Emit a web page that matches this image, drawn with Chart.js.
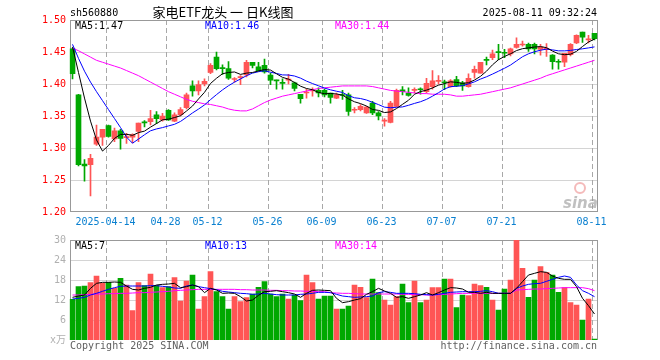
<!DOCTYPE html>
<html lang="zh">
<head>
    <meta charset="UTF-8"/>
    <title>家电ETF龙头 日K线图</title>
    <script src="https://cdn.jsdelivr.net/npm/chart.js@4.4.1/dist/chart.umd.min.js"></script>
    <style>
        body { margin: 0; background: #fff; }
        #wrap { position: relative; width: 660px; height: 360px; }
        #kline { position: absolute; left: 0; top: 0; }
        #vol { position: absolute; left: 0; top: 228px; }
    </style>
</head>
<body>
<div id="wrap">
    <canvas id="kline" width="660" height="236"></canvas>
    <canvas id="vol" width="660" height="132"></canvas>
</div>
<script>
    // trading days shown (2025)
    const dates = ['04-03', '04-07', '04-08', '04-09', '04-10', '04-11', '04-14', '04-15', '04-16', '04-17',
        '04-18', '04-21', '04-22', '04-23', '04-24', '04-25', '04-28', '04-29', '04-30', '05-06',
        '05-07', '05-08', '05-09', '05-12', '05-13', '05-14', '05-15', '05-16', '05-19', '05-20',
        '05-21', '05-22', '05-23', '05-26', '05-27', '05-28', '05-29', '05-30', '06-03', '06-04',
        '06-05', '06-06', '06-09', '06-10', '06-11', '06-12', '06-13', '06-16', '06-17', '06-18',
        '06-19', '06-20', '06-23', '06-24', '06-25', '06-26', '06-27', '06-30', '07-01', '07-02',
        '07-03', '07-04', '07-07', '07-08', '07-09', '07-10', '07-11', '07-14', '07-15', '07-16',
        '07-17', '07-18', '07-21', '07-22', '07-23', '07-24', '07-25', '07-28', '07-29', '07-30',
        '07-31', '08-01', '08-04', '08-05', '08-06', '08-07', '08-08', '08-11'];

    // x axis ticks
    const tickDates = ['04-14', '04-28', '05-12', '05-26', '06-09', '06-23', '07-07', '07-21', '08-11'];
    const tickLabels = ['2025-04-14', '04-28', '05-12', '05-26', '06-09', '06-23', '07-07', '07-21', '08-11'];

    const open = [1.455, 1.383, 1.275, 1.274, 1.306, 1.317, 1.335, 1.314, 1.327, 1.316,
        1.317, 1.326, 1.341, 1.341, 1.352, 1.344, 1.359, 1.342, 1.352, 1.363,
        1.397, 1.389, 1.400, 1.418, 1.442, 1.425, 1.424, 1.407, 1.410, 1.414,
        1.434, 1.427, 1.429, 1.414, 1.406, 1.402, 1.406, 1.402, 1.384, 1.386,
        1.389, 1.390, 1.390, 1.386, 1.378, 1.383, 1.383, 1.359, 1.360, 1.355,
        1.370, 1.355, 1.342, 1.340, 1.365, 1.391, 1.386, 1.390, 1.392, 1.388,
        1.396, 1.404, 1.403, 1.396, 1.407, 1.402, 1.396, 1.418, 1.417, 1.438,
        1.441, 1.450, 1.449, 1.447, 1.457, 1.461, 1.462, 1.462, 1.454, 1.454,
        1.445, 1.435, 1.434, 1.446, 1.464, 1.481, 1.469, 1.479];
    const high = [1.456, 1.384, 1.282, 1.290, 1.336, 1.329, 1.336, 1.331, 1.329, 1.323,
        1.322, 1.339, 1.343, 1.359, 1.357, 1.354, 1.360, 1.355, 1.363, 1.386,
        1.405, 1.405, 1.408, 1.432, 1.450, 1.430, 1.435, 1.410, 1.413, 1.437,
        1.434, 1.434, 1.439, 1.417, 1.406, 1.408, 1.415, 1.403, 1.384, 1.392,
        1.394, 1.394, 1.392, 1.386, 1.386, 1.390, 1.386, 1.363, 1.368, 1.365,
        1.373, 1.357, 1.346, 1.373, 1.392, 1.396, 1.394, 1.394, 1.394, 1.409,
        1.421, 1.413, 1.406, 1.407, 1.412, 1.404, 1.416, 1.428, 1.434, 1.442,
        1.453, 1.462, 1.454, 1.456, 1.472, 1.467, 1.464, 1.464, 1.462, 1.463,
        1.446, 1.438, 1.448, 1.463, 1.477, 1.481, 1.476, 1.479];
    const low = [1.408, 1.272, 1.248, 1.225, 1.304, 1.304, 1.317, 1.310, 1.298, 1.307,
        1.308, 1.310, 1.333, 1.336, 1.338, 1.342, 1.343, 1.341, 1.350, 1.361,
        1.381, 1.383, 1.397, 1.416, 1.422, 1.415, 1.407, 1.403, 1.399, 1.411,
        1.425, 1.420, 1.417, 1.399, 1.392, 1.392, 1.400, 1.389, 1.370, 1.378,
        1.381, 1.380, 1.380, 1.370, 1.377, 1.376, 1.351, 1.355, 1.358, 1.354,
        1.352, 1.344, 1.334, 1.339, 1.364, 1.383, 1.381, 1.386, 1.384, 1.386,
        1.392, 1.400, 1.391, 1.395, 1.396, 1.390, 1.395, 1.409, 1.417, 1.430,
        1.438, 1.438, 1.441, 1.444, 1.456, 1.459, 1.451, 1.447, 1.445, 1.443,
        1.423, 1.423, 1.427, 1.444, 1.463, 1.465, 1.464, 1.469];
    const close = [1.416, 1.274, 1.272, 1.284, 1.317, 1.329, 1.318, 1.327, 1.315, 1.318,
        1.321, 1.339, 1.339, 1.346, 1.346, 1.350, 1.344, 1.352, 1.360, 1.383,
        1.389, 1.399, 1.404, 1.429, 1.424, 1.424, 1.409, 1.408, 1.410, 1.434,
        1.429, 1.421, 1.419, 1.406, 1.405, 1.401, 1.407, 1.393, 1.377, 1.387,
        1.391, 1.386, 1.383, 1.379, 1.383, 1.382, 1.357, 1.360, 1.365, 1.364,
        1.355, 1.350, 1.343, 1.370, 1.390, 1.388, 1.382, 1.390, 1.391, 1.401,
        1.405, 1.404, 1.402, 1.405, 1.397, 1.397, 1.409, 1.423, 1.434, 1.437,
        1.447, 1.449, 1.448, 1.455, 1.462, 1.462, 1.455, 1.455, 1.458, 1.454,
        1.435, 1.434, 1.448, 1.462, 1.476, 1.473, 1.469, 1.471];

    const ma5 = [1.458, 1.418, 1.378, 1.342, 1.3126, 1.2952, 1.304, 1.315, 1.3212, 1.3214,
        1.3198, 1.324, 1.3264, 1.3326, 1.3382, 1.344, 1.345, 1.3476, 1.3504, 1.3578,
        1.3656, 1.3766, 1.387, 1.4008, 1.409, 1.416, 1.418, 1.4188, 1.415, 1.417,
        1.418, 1.4204, 1.4226, 1.4218, 1.416, 1.4104, 1.4076, 1.4024, 1.3966, 1.393,
        1.391, 1.3868, 1.3848, 1.3852, 1.3844, 1.3826, 1.3768, 1.3722, 1.3694, 1.3656,
        1.3602, 1.3588, 1.3554, 1.3564, 1.3616, 1.3682, 1.3746, 1.384, 1.3882, 1.3904,
        1.3938, 1.3982, 1.4006, 1.4034, 1.4026, 1.401, 1.402, 1.4062, 1.412, 1.42,
        1.43, 1.438, 1.443, 1.4472, 1.4522, 1.4552, 1.4564, 1.4578, 1.4584, 1.4568,
        1.4514, 1.4472, 1.4458, 1.4466, 1.451, 1.4586, 1.4656, 1.4702];
    const ma10 = [1.462, 1.44, 1.42, 1.403, 1.388, 1.374, 1.36, 1.346, 1.332, 1.317,
        1.3075, 1.314, 1.3207, 1.3269, 1.3298, 1.3319, 1.3345, 1.337, 1.3415, 1.348,
        1.3548, 1.3608, 1.3673, 1.3756, 1.3834, 1.3908, 1.3973, 1.4029, 1.4079, 1.413,
        1.417, 1.4192, 1.4207, 1.4184, 1.4165, 1.4142, 1.414, 1.4125, 1.4092, 1.4045,
        1.4007, 1.3972, 1.3936, 1.3909, 1.3887, 1.3868, 1.3818, 1.3785, 1.3773, 1.375,
        1.3714, 1.3678, 1.3638, 1.3629, 1.3636, 1.3642, 1.3667, 1.3697, 1.3723, 1.376,
        1.381, 1.3864, 1.3923, 1.3958, 1.3965, 1.3974, 1.4001, 1.4034, 1.4077, 1.4113,
        1.4155, 1.42, 1.4246, 1.4296, 1.4361, 1.4426, 1.4472, 1.4504, 1.4528, 1.4545,
        1.4533, 1.4518, 1.4518, 1.4525, 1.4539, 1.455, 1.4564, 1.458];
    const ma30 = [1.456, 1.452, 1.447, 1.442, 1.437, 1.434, 1.431, 1.428, 1.425, 1.421,
        1.417, 1.413, 1.408, 1.403, 1.398, 1.393, 1.388, 1.384, 1.380, 1.376,
        1.373, 1.371, 1.369, 1.368, 1.366, 1.364, 1.361, 1.359, 1.358, 1.358,
        1.361, 1.366, 1.371, 1.375, 1.378, 1.381, 1.383, 1.385, 1.387, 1.389,
        1.391, 1.393, 1.394, 1.395, 1.396, 1.397, 1.397, 1.397, 1.397, 1.397,
        1.396, 1.394, 1.392, 1.390, 1.389, 1.388, 1.387, 1.386, 1.385, 1.385,
        1.384, 1.384, 1.384, 1.383, 1.381, 1.381, 1.382, 1.383, 1.384, 1.386,
        1.388, 1.390, 1.392, 1.394, 1.397, 1.400, 1.403, 1.406, 1.409, 1.413,
        1.416, 1.419, 1.422, 1.425, 1.428, 1.431, 1.434, 1.437];

    // volume, x万
    const volume = [12.2, 16.0, 16.2, 17.2, 19.2, 17.0, 17.3, 15.5, 18.5, 16.5,
        8.8, 17.2, 16.3, 19.8, 16.3, 15.7, 16.0, 18.7, 11.7, 17.7,
        19.5, 9.3, 13.0, 20.5, 14.5, 13.0, 9.3, 13.0, 11.5, 12.7,
        13.8, 15.8, 17.5, 13.8, 13.0, 13.8, 12.3, 13.5, 11.8, 19.5,
        17.2, 12.3, 13.2, 13.2, 9.3, 9.3, 10.2, 16.5, 15.8, 12.7,
        18.3, 14.2, 12.0, 10.5, 13.0, 16.8, 11.2, 17.7, 11.2, 12.0,
        15.7, 15.7, 18.3, 18.3, 9.7, 13.5, 13.3, 16.8, 16.3, 15.8,
        12.0, 9.0, 15.3, 18.0, 30.5, 21.5, 12.8, 18.0, 22.0, 20.3,
        19.5, 14.3, 15.7, 11.2, 10.5, 6.0, 12.3, 0.3];
    const vma5 = [12.8, 13.2, 13.5, 15.5, 17.0, 17.3, 17.3, 17.4, 17.3, 16.2,
        15.2, 15.0, 15.5, 15.8, 16.5, 16.7, 16.8, 17.0, 15.7, 16.0,
        16.5, 16.0, 14.2, 15.5, 15.0, 14.0, 14.1, 14.0, 13.0, 11.7,
        12.0, 13.4, 14.5, 14.6, 14.8, 14.5, 14.2, 13.8, 12.8, 14.0,
        14.9, 15.0, 14.9, 14.8, 12.5, 11.2, 11.5, 12.0, 12.4, 13.7,
        14.5, 15.5, 14.7, 14.0, 12.8, 13.0, 12.5, 13.0, 13.5, 14.2,
        13.5, 14.2, 15.0, 15.7, 15.6, 15.3, 14.3, 14.3, 14.0, 14.3,
        14.0, 14.0, 14.0, 14.0, 15.5, 17.5, 19.5, 20.0, 20.5, 20.3,
        19.2, 18.5, 18.2, 18.2, 16.0, 12.5, 10.3, 7.8];
    const vma10 = [12.3, 12.5, 12.8, 13.5, 14.0, 14.6, 15.2, 15.7, 16.1, 16.2,
        16.2, 16.2, 16.2, 16.3, 16.3, 16.1, 15.9, 15.6, 15.5, 16.2,
        16.5, 16.0, 15.7, 15.4, 15.1, 14.6, 14.4, 14.2, 14.0, 13.9,
        13.7, 13.8, 14.0, 13.8, 13.6, 13.5, 13.5, 13.5, 13.7, 13.8,
        14.0, 14.3, 14.3, 14.2, 13.7, 13.2, 13.0, 12.8, 12.9, 13.0,
        13.2, 14.2, 14.5, 14.3, 14.0, 14.0, 14.0, 13.9, 13.7, 13.6,
        13.5, 13.7, 14.0, 14.3, 14.4, 14.5, 14.5, 14.5, 14.6, 14.8,
        14.5, 14.0, 14.0, 14.0, 15.5, 16.2, 16.7, 16.9, 17.0, 17.6,
        18.2, 18.8, 19.2, 18.8, 16.5, 14.8, 14.0, 13.0];
    const vma30 = [13.5, 13.5, 13.6, 13.7, 13.8, 13.8, 13.9, 13.9, 14.0, 14.0,
        14.1, 14.2, 14.2, 14.3, 14.4, 14.5, 14.6, 14.8, 14.9, 15.0,
        15.1, 15.2, 15.2, 15.2, 15.2, 15.2, 15.2, 15.2, 15.1, 15.1,
        15.0, 15.0, 15.0, 14.9, 14.9, 14.8, 14.8, 14.7, 14.7, 14.6,
        14.6, 14.5, 14.5, 14.2, 14.1, 14.0, 14.0, 13.9, 13.8, 13.8,
        13.8, 13.8, 13.8, 13.8, 13.8, 13.7, 13.7, 13.6, 13.6, 13.5,
        13.5, 13.6, 13.7, 13.8, 13.9, 14.0, 14.0, 14.0, 14.0, 14.0,
        14.0, 14.0, 14.0, 14.0, 15.0, 15.1, 15.2, 15.3, 15.3, 15.4,
        15.5, 15.6, 15.7, 15.7, 15.7, 15.7, 15.4, 14.8];

    const RED = '#ff5555';
    const GREEN = '#00a800';
    const MONO = '10px "DejaVu Sans Mono", "Noto Sans CJK SC", monospace';
    const candleColors = close.map((c, i) => c >= open[i] ? RED : GREEN);
    const tickIdx = tickDates.map(d => dates.indexOf(d));

    function hline(ctx, x1, y, x2) {
        ctx.beginPath();
        ctx.moveTo(x1, y);
        ctx.lineTo(x2, y);
        ctx.stroke();
    }

    function vline(ctx, x, y1, y2) {
        ctx.beginPath();
        ctx.moveTo(x, y1);
        ctx.lineTo(x, y2);
        ctx.stroke();
    }

    // grid + frame, drawn under the candles
    function gridPlugin(levels, withBottom) {
        return {
            id: 'grid',
            beforeDatasetsDraw(chart) {
                const ctx = chart.ctx, a = chart.chartArea;
                const xs = chart.scales.x, ys = chart.scales.y;
                ctx.save();
                ctx.lineWidth = 1;
                ctx.strokeStyle = '#a8a8a8';
                ctx.setLineDash([1, 1]);
                levels.forEach(v => {
                    hline(ctx, a.left + 1, Math.round(ys.getPixelForValue(v)) + 0.5, a.right);
                });
                ctx.setLineDash([5, 3]);
                tickIdx.forEach(i => {
                    vline(ctx, Math.floor(xs.getPixelForValue(i)) - 1.5, a.top, a.bottom);
                });
                ctx.setLineDash([]);
                ctx.strokeStyle = '#999';
                hline(ctx, a.left + 1, a.top + 0.5, a.right);
                vline(ctx, a.left + 1, a.top, a.bottom);
                vline(ctx, a.right, a.top, a.bottom);
                if (withBottom) hline(ctx, a.left + 1, a.bottom - 0.5, a.right);
                ctx.restore();
            }
        };
    }

    function legendText(ctx, items, y) {
        ctx.font = MONO;
        ctx.textBaseline = 'middle';
        ctx.textAlign = 'left';
        items.forEach(it => {
            ctx.fillStyle = it[2];
            ctx.fillText(it[0], it[1], y);
        });
    }

    const klineText = {
        id: 'klineText',
        beforeDatasetsDraw(chart) {
            // sina watermark
            const ctx = chart.ctx;
            ctx.save();
            ctx.strokeStyle = 'rgba(235,130,130,0.55)';
            ctx.lineWidth = 2;
            ctx.beginPath();
            ctx.arc(580, 188, 5, 0, Math.PI * 2);
            ctx.stroke();
            ctx.font = 'italic bold 15px "DejaVu Sans", sans-serif';
            ctx.fillStyle = 'rgba(150,150,150,0.6)';
            ctx.textAlign = 'left';
            ctx.textBaseline = 'alphabetic';
            ctx.fillText('sina', 563, 208);
            ctx.restore();
        },
        afterDraw(chart) {
            const ctx = chart.ctx;
            ctx.save();
            ctx.font = MONO;
            ctx.fillStyle = '#000';
            ctx.textBaseline = 'middle';
            ctx.textAlign = 'left';
            ctx.fillText('sh560880', 70, 13);
            ctx.textAlign = 'right';
            ctx.fillText('2025-08-11 09:32:24', 597, 13);
            ctx.font = '13px "Noto Sans CJK SC", sans-serif';
            ctx.textAlign = 'center';
            ctx.fillText('家电ETF龙头 一 日K线图', 223, 12);
            legendText(ctx, [
                ['MA5:' + ma5[ma5.length - 1].toFixed(2), 75, '#000'],
                ['MA10:' + ma10[ma10.length - 1].toFixed(2), 205, '#0000ff'],
                ['MA30:' + ma30[ma30.length - 1].toFixed(2), 335, '#ff00ff']
            ], 26);
            ctx.restore();
        }
    };

    const volText = {
        id: 'volText',
        afterDraw(chart) {
            const ctx = chart.ctx;
            ctx.save();
            legendText(ctx, [
                ['MA5:' + Math.floor(vma5[vma5.length - 1]), 75, '#000'],
                ['MA10:' + Math.floor(vma10[vma10.length - 1]), 205, '#0000ff'],
                ['MA30:' + Math.floor(vma30[vma30.length - 1]), 335, '#ff00ff']
            ], 18);
            ctx.font = MONO;
            ctx.fillStyle = '#606060';
            ctx.textAlign = 'left';
            ctx.fillText('Copyright 2025 SINA.COM', 70, 118);
            ctx.textAlign = 'right';
            ctx.fillText('http://finance.sina.com.cn', 597, 118);
            ctx.restore();
        }
    };

    function maLine(label, data, color) {
        return {
            type: 'line', label: label, data: data, borderColor: color, borderWidth: 1,
            pointRadius: 0, tension: 0, order: 0
        };
    }

    const monoFont = {family: '"DejaVu Sans Mono", "Noto Sans CJK SC", monospace', size: 10};

    // upper chart: daily candles
    new Chart(document.getElementById('kline'), {
        type: 'bar',
        data: {
            labels: dates,
            datasets: [
                maLine('MA5', ma5, '#000'),
                maLine('MA10', ma10, '#0000ff'),
                maLine('MA30', ma30, '#ff00ff'),
                {
                    label: 'body', data: dates.map((d, i) => [open[i], close[i]]),
                    backgroundColor: candleColors, barThickness: 5, minBarLength: 1, grouped: false, order: 1
                },
                {
                    label: 'wick', data: dates.map((d, i) => [low[i], high[i]]),
                    backgroundColor: candleColors, barThickness: 1, grouped: false, order: 2
                }
            ]
        },
        options: {
            responsive: false,
            animation: false,
            layout: {padding: {top: 20, right: 62.5, left: 0, bottom: 0}},
            plugins: {legend: {display: false}, tooltip: {enabled: false}},
            scales: {
                x: {
                    offset: true,
                    grid: {display: false, drawTicks: false},
                    border: {display: false},
                    ticks: {
                        autoSkip: false, maxRotation: 0, padding: 4, labelOffset: -3,
                        color: '#0a80d0', font: monoFont,
                        callback: (v, i) => {
                            const k = tickIdx.indexOf(i);
                            return k >= 0 ? tickLabels[k] : null;
                        }
                    },
                    afterFit: s => { s.height = 24; }
                },
                y: {
                    min: 1.2, max: 1.5,
                    grid: {display: false, drawTicks: false},
                    border: {display: false},
                    ticks: {stepSize: 0.05, padding: 3.5, color: '#ff0000', font: monoFont, callback: v => v.toFixed(2)},
                    afterFit: s => { s.width = 69.5; }
                }
            }
        },
        plugins: [gridPlugin([1.45, 1.40, 1.35, 1.30, 1.25], true), klineText]
    });

    // lower chart: volume
    new Chart(document.getElementById('vol'), {
        type: 'bar',
        data: {
            labels: dates,
            datasets: [
                maLine('MA5', vma5, '#000'),
                maLine('MA10', vma10, '#0000ff'),
                maLine('MA30', vma30, '#ff00ff'),
                {
                    label: 'volume', data: volume, backgroundColor: candleColors,
                    barThickness: 5, grouped: false, order: 1
                }
            ]
        },
        options: {
            responsive: false,
            animation: false,
            layout: {padding: {top: 12, right: 62.5, left: 0, bottom: 20}},
            plugins: {legend: {display: false}, tooltip: {enabled: false}},
            scales: {
                x: {offset: true, display: false},
                y: {
                    min: 0, max: 30,
                    grid: {display: false, drawTicks: false},
                    border: {display: false},
                    ticks: {
                        stepSize: 6, padding: 3.5, color: '#b0b0b0', font: monoFont,
                        callback: v => v === 0 ? 'x万' : v
                    },
                    afterFit: s => { s.width = 69.5; }
                }
            }
        },
        plugins: [gridPlugin([24, 18, 12, 6], false), volText]
    });
</script>
</body>
</html>
